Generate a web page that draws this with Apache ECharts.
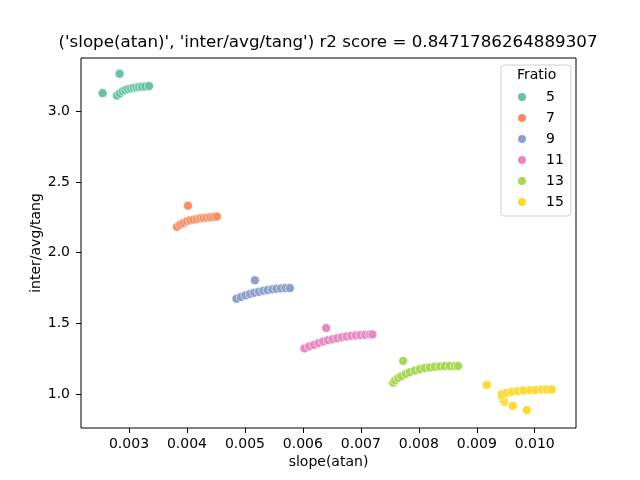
<!DOCTYPE html>
<html>
<head>
<meta charset="UTF-8">
<title>slope vs inter</title>
<style type="text/css">
html, body {
	margin: 0;
	padding: 0;
	background: #fff;
}
#main {
	width: 640px;
	height: 480px;
}
</style>
</head>
<body>
	<div id="main"></div>
</body>
<script type="text/javascript" src="https://cdn.jsdelivr.net/npm/echarts@6/dist/echarts.min.js"></script>
<script type="text/javascript">
	// Fratio groups (legend entries)
	var fratios = [ '5', '7', '9', '11', '13', '15' ];
	var colors = [ '#66c2a5', '#fc8d62', '#8da0cb', '#e78ac3', '#a6d854', '#ffd92f' ];

	// tick values
	var xTicks = [ 0.003, 0.004, 0.005, 0.006, 0.007, 0.008, 0.009, 0.010 ];
	var yTicks = [ 1.0, 1.5, 2.0, 2.5, 3.0 ];

	// Fratio 5
	var slope5 = [ 0.002545, 0.002838, 0.002793, 0.002838, 0.002890, 0.002936, 0.002983, 0.003034,
			0.003079, 0.003126, 0.003172, 0.003224, 0.003281, 0.003345 ];
	var inter5 = [ 3.127, 3.264, 3.110, 3.124, 3.139, 3.149, 3.156, 3.160,
			3.165, 3.167, 3.170, 3.172, 3.174, 3.177 ];

	// Fratio 7
	var slope7 = [ 0.004017, 0.003828, 0.003884, 0.003941, 0.004000, 0.004057, 0.004114, 0.004172,
			0.004229, 0.004286, 0.004345, 0.004402, 0.004459, 0.004517 ];
	var inter7 = [ 2.332, 2.182, 2.198, 2.210, 2.222, 2.229, 2.233, 2.238,
			2.243, 2.245, 2.248, 2.250, 2.252, 2.255 ];

	// Fratio 9
	var slope9 = [ 0.005172, 0.004855, 0.004931, 0.005010, 0.005086, 0.005160, 0.005241, 0.005316,
			0.005390, 0.005471, 0.005545, 0.005621, 0.005700, 0.005776 ];
	var inter9 = [ 1.805, 1.675, 1.687, 1.699, 1.708, 1.717, 1.724, 1.731,
			1.736, 1.741, 1.745, 1.748, 1.750, 1.750 ];

	// Fratio 11
	var slope11 = [ 0.006402, 0.006028, 0.006109, 0.006190, 0.006269, 0.006350, 0.006431, 0.006510,
			0.006591, 0.006672, 0.006752, 0.006833, 0.006914, 0.006993, 0.007074, 0.007155, 0.007200 ];
	var inter11 = [ 1.468, 1.324, 1.338, 1.349, 1.361, 1.373, 1.382, 1.389,
			1.396, 1.403, 1.408, 1.413, 1.416, 1.418, 1.420, 1.423, 1.423 ];

	// Fratio 13
	var slope13 = [ 0.007729, 0.007557, 0.007591, 0.007643, 0.007700, 0.007776, 0.007845, 0.007931,
			0.008017, 0.008103, 0.008190, 0.008276, 0.008362, 0.008448, 0.008534, 0.008621, 0.008678 ];
	var inter13 = [ 1.236, 1.081, 1.098, 1.114, 1.128, 1.144, 1.156, 1.168,
			1.178, 1.185, 1.190, 1.194, 1.197, 1.199, 1.199, 1.199, 1.199 ];

	// Fratio 15
	var slope15 = [ 0.009172, 0.009862, 0.009621, 0.009476, 0.009453, 0.009428, 0.009431, 0.009517,
			0.009603, 0.009707, 0.009803, 0.009919, 0.010017, 0.010121, 0.010207, 0.010293 ];
	var inter15 = [ 1.066, 0.888, 0.918, 0.948, 0.965, 0.987, 0.999, 1.010,
			1.017, 1.022, 1.027, 1.029, 1.031, 1.034, 1.034, 1.034 ];

	var slopes = [ slope5, slope7, slope9, slope11, slope13, slope15 ];
	var inters = [ inter5, inter7, inter9, inter11, inter13, inter15 ];

	var font = 'DejaVu Sans';

	// 拼出每组的点
	var series = [];
	for (var i = 0; i < fratios.length; i++) {
		var pts = [];
		for (var j = 0; j < slopes[i].length; j++) {
			pts.push([ slopes[i][j], inters[i][j] ]);
		}
		series.push({
			name : fratios[i],
			type : 'scatter',
			data : pts,
			symbolSize : 9,
			itemStyle : {
				color : colors[i],
				opacity : 1,
				borderColor : '#fff',
				borderWidth : 0.6
			}
		});
	}

	var chart = echarts.init(document.getElementById('main'));
	var option = {
		animation : false,
		backgroundColor : '#fff',
		color : colors,
		title : {
			text : "('slope(atan)', 'inter/avg/tang') r2 score = 0.8471786264889307",
			left : 328,
			top : 34,
			padding : 0,
			textAlign : 'center',
			textStyle : {
				fontFamily : font,
				fontSize : 16.7,
				fontWeight : 'normal',
				color : '#000'
			}
		},
		grid : {
			left : 81,
			right : 64,
			top : 58,
			bottom : 52,
			show : true,
			borderColor : '#000',
			borderWidth : 1,
			containLabel : false
		},
		legend : {
			orient : 'vertical',
			left : 501,
			top : 65,
			padding : [ 25, 7, 7, 17 ],
			itemWidth : 8,
			itemHeight : 8,
			itemGap : 7,
			icon : 'circle',
			selectedMode : false,
			borderColor : '#d0d0d0',
			borderWidth : 1,
			borderRadius : 3,
			backgroundColor : 'rgba(255,255,255,0.8)',
			data : fratios,
			formatter : '{a|{name}}',
			itemStyle : {
				borderWidth : 0
			},
			textStyle : {
				fontFamily : font,
				fontSize : 14,
				color : '#000',
				rich : {
					a : {
						fontFamily : font,
						fontSize : 14,
						lineHeight : 14,
						padding : [ 0, 0, 0, 15 ]
					}
				}
			}
		},
		graphic : [ {
			type : 'text',
			left : 517,
			top : 68,
			z : 100,
			style : {
				text : 'Fratio',
				fontFamily : font,
				fontSize : 14,
				fill : '#000'
			}
		} ],
		xAxis : {
			type : 'value',
			min : 0.002172,
			max : 0.010712,
			name : 'slope(atan)',
			nameLocation : 'middle',
			nameGap : 27,
			nameMoveOverlap : false,
			nameTextStyle : {
				fontFamily : font,
				fontSize : 14,
				color : '#000'
			},
			axisLine : {
				show : false
			},
			axisTick : {
				show : true,
				length : 5,
				customValues : xTicks,
				lineStyle : {
					color : '#000'
				}
			},
			axisLabel : {
				customValues : xTicks,
				margin : 9,
				fontFamily : font,
				fontSize : 14,
				color : '#000',
				formatter : function(v) {
					return v.toFixed(3);
				}
			},
			splitLine : {
				show : false
			}
		},
		yAxis : {
			type : 'value',
			min : 0.762,
			max : 3.375,
			name : 'inter/avg/tang',
			nameLocation : 'middle',
			nameGap : 38,
			nameMoveOverlap : false,
			nameTextStyle : {
				fontFamily : font,
				fontSize : 14,
				color : '#000'
			},
			axisLine : {
				show : false
			},
			axisTick : {
				show : true,
				length : 5,
				customValues : yTicks,
				lineStyle : {
					color : '#000'
				}
			},
			axisLabel : {
				customValues : yTicks,
				margin : 11,
				fontFamily : font,
				fontSize : 14,
				color : '#000',
				formatter : function(v) {
					return v.toFixed(1);
				}
			},
			splitLine : {
				show : false
			}
		},
		series : series
	};
	chart.setOption(option);
</script>
</html>
